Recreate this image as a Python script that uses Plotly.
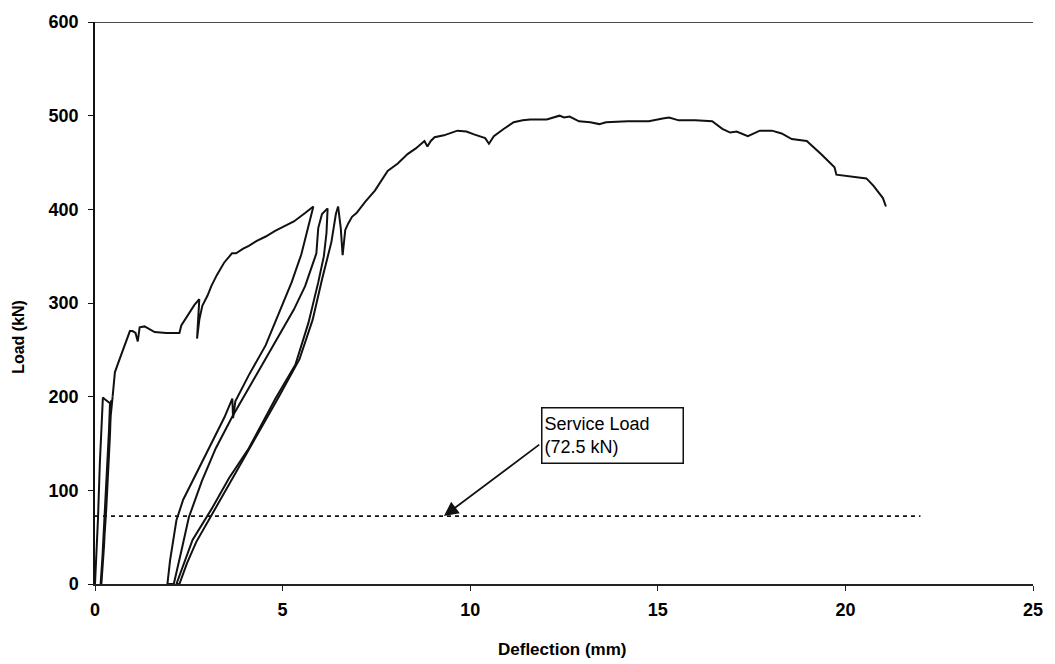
import plotly.graph_objects as go

# Load-deflection record (deflection in mm, load in kN)

# first loading to ~200 kN with two small unload/reload loops
defl_initial = [0.0, 0.04, 0.08, 0.13, 0.17, 0.21, 0.27, 0.33, 0.40,
                0.35, 0.27, 0.18, 0.15,
                0.20, 0.30, 0.38, 0.43,
                0.40, 0.30, 0.20, 0.17,
                0.24, 0.34, 0.42, 0.47]
load_initial = [0, 30, 70, 130, 170, 199, 197, 195, 193,
                140, 70, 10, 0,
                30, 110, 170, 196,
                160, 80, 15, 0,
                40, 120, 180, 200]

# envelope from ~200 kN up to the first peak
defl_rise = [0.47, 0.53, 0.60, 0.70, 0.80, 0.93, 1.00, 1.08, 1.14, 1.19, 1.32,
             1.45, 1.59, 1.90, 2.25, 2.30, 2.50, 2.65, 2.78, 2.74, 2.72, 2.78,
             2.86, 3.00, 3.10, 3.25, 3.44, 3.65, 3.76, 3.95, 4.10, 4.30, 4.55,
             4.80, 5.08, 5.30, 5.60, 5.82]
load_rise = [200, 226, 234, 245, 255, 270, 270, 268, 259, 274, 275,
             272, 269, 268, 268, 276, 288, 298, 304, 282, 262, 282,
             297, 308, 318, 330, 343, 353, 353, 358, 361, 366, 371,
             377, 383, 387, 396, 403]

# unloading from the first peak
defl_unload_1 = [5.82, 5.69, 5.50, 5.24, 4.90, 4.55, 4.10, 3.74, 3.68, 3.66,
                 3.45, 3.22, 2.90, 2.60, 2.35, 2.17, 2.00, 1.93]
load_unload_1 = [403, 382, 352, 322, 288, 255, 223, 195, 177, 198,
                 178, 160, 135, 110, 90, 68, 25, 0]

# reloading to the second peak
defl_reload_1 = [1.93, 2.10, 2.30, 2.50, 2.85, 3.22, 3.65, 4.10, 4.50, 4.97,
                 5.30, 5.60, 5.90, 5.95, 6.05, 6.20]
load_reload_1 = [0, 0, 35, 71, 110, 145, 178, 209, 237, 269,
                 293, 318, 353, 380, 395, 401]

# unloading from the second peak
defl_unload_2 = [6.20, 6.17, 6.10, 5.95, 5.69, 5.34, 4.81, 4.10, 3.57, 3.12,
                 2.60, 2.17]
load_unload_2 = [401, 375, 350, 322, 279, 234, 198, 145, 113, 81,
                 47, 0]

# reloading to the third peak
defl_reload_2 = [2.17, 2.25, 2.45, 2.70, 3.20, 3.70, 4.20, 4.90, 5.45, 5.80,
                 6.05, 6.30, 6.42, 6.48]
load_reload_2 = [0, 0, 22, 45, 80, 115, 150, 200, 240, 282,
                 325, 365, 395, 403]

# post-peak envelope to failure
defl_final = [6.48, 6.55, 6.60, 6.64, 6.67, 6.75, 6.85, 6.97, 7.20, 7.46,
              7.65, 7.80, 8.07, 8.20, 8.33, 8.55, 8.78, 8.86, 8.95, 9.05,
              9.30, 9.66, 9.90, 10.10, 10.27, 10.40, 10.50, 10.63, 10.90, 11.16,
              11.40, 11.60, 12.04, 12.20, 12.38, 12.50, 12.65, 12.90, 13.20, 13.44,
              13.62, 14.20, 14.76, 15.13, 15.30, 15.56, 16.00, 16.45, 16.60, 16.72,
              16.93, 17.10, 17.40, 17.72, 18.04, 18.30, 18.57, 18.97, 19.35, 19.71,
              19.76, 20.20, 20.56, 20.75, 20.85, 21.00, 21.08]
load_final = [403, 380, 351, 365, 378, 385, 392, 396, 408, 420,
              432, 441, 449, 454, 459, 465, 473, 467, 473, 477,
              479, 484, 483, 480, 478, 476, 470, 478, 486, 493,
              495, 496, 496, 498, 500, 498, 499, 494, 493, 491,
              493, 494, 494, 497, 498, 495, 495, 494, 490, 486,
              482, 483, 478, 484, 484, 481, 475, 473, 459, 445,
              437, 435, 433, 425, 420, 412, 403]

# service load level
service_load = 72.5
service_defl = [0.0, 22.0]
service_label = "Service Load<br>(72.5 kN)"

x_ticks = [0, 5, 10, 15, 20, 25]
y_ticks = [0, 100, 200, 300, 400, 500, 600]

segments = [
    (defl_initial, load_initial),
    (defl_rise, load_rise),
    (defl_unload_1, load_unload_1),
    (defl_reload_1, load_reload_1),
    (defl_unload_2, load_unload_2),
    (defl_reload_2, load_reload_2),
    (defl_final, load_final),
]

fig = go.Figure()
for dx, ly in segments:
    fig.add_trace(go.Scatter(
        x=dx, y=ly, mode="lines",
        line=dict(color="#111111", width=2),
        showlegend=False, hoverinfo="skip",
    ))

fig.add_trace(go.Scatter(
    x=service_defl, y=[service_load] * len(service_defl), mode="lines",
    line=dict(color="#111111", width=1.8, dash="4px,4px"),
    showlegend=False, hoverinfo="skip",
))

font_family = "Liberation Sans, Arial, sans-serif"

fig.update_layout(
    width=1055, height=664,
    margin=dict(l=95, r=15, t=17, b=80),
    paper_bgcolor="white", plot_bgcolor="white",
    font=dict(family=font_family, color="black"),
    xaxis=dict(
        range=[0, 25], tickvals=x_ticks, ticktext=[str(v) for v in x_ticks],
        showgrid=False, zeroline=False,
        showline=True, linecolor="#222222", linewidth=1.5,
        ticks="outside", ticklen=5, tickwidth=1.2, tickcolor="#222222",
        tickfont=dict(size=18, family=font_family, weight="bold"),
        ticklabelstandoff=4,
    ),
    yaxis=dict(
        range=[0, 600], tickvals=y_ticks, ticktext=[str(v) for v in y_ticks],
        showgrid=False, zeroline=False,
        showline=True, linecolor="#111111", linewidth=1.5,
        ticks="outside", ticklen=5, tickwidth=1.2, tickcolor="#111111",
        tickfont=dict(size=18, family=font_family, weight="bold"),
        ticklabelstandoff=6,
    ),
)

# border line along the top of the plotting area
fig.add_shape(type="line", xref="paper", yref="y", x0=0, x1=1, y0=600, y1=600,
              line=dict(color="#111111", width=1.5))

# axis titles
fig.add_annotation(text="Deflection (mm)", xref="paper", yref="paper",
                   x=0.498, y=-0.116, xanchor="center", yanchor="middle",
                   showarrow=False,
                   font=dict(size=17, family=font_family, weight="bold"))
fig.add_annotation(text="Load (kN)", xref="paper", yref="paper",
                   x=-0.0815, y=0.439, xanchor="center", yanchor="middle",
                   textangle=-90, showarrow=False,
                   font=dict(size=16, family=font_family, weight="bold"))

# callout box and arrow for the service load
fig.add_annotation(text=service_label, xref="x", yref="y",
                   x=11.9, y=188.5, xanchor="left", yanchor="top",
                   align="left", showarrow=False,
                   width=136, height=50,
                   bordercolor="#111111", borderwidth=1.5, borderpad=2,
                   bgcolor="white",
                   font=dict(size=18, family=font_family, color="black"))
fig.add_annotation(text="", x=9.3, y=service_load, xref="x", yref="y",
                   ax=11.88, ay=150, axref="x", ayref="y",
                   showarrow=True, arrowhead=2, arrowsize=1.6,
                   arrowwidth=1.8, arrowcolor="#111111", standoff=0)

fig.write_html("out.html")
